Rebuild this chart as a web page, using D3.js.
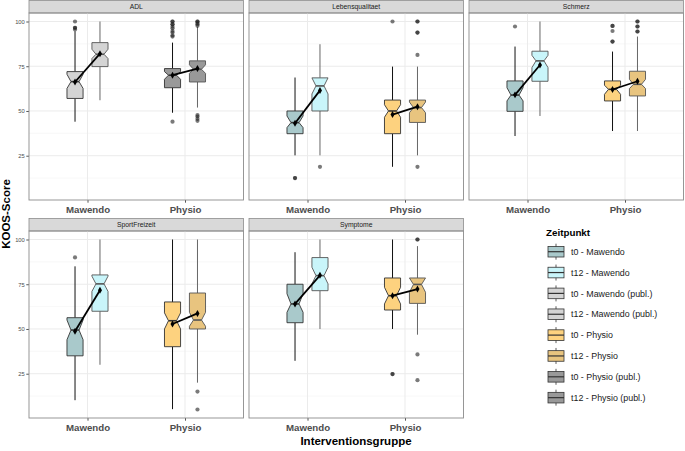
<!DOCTYPE html>
<html>
<head>
<meta charset="utf-8">
<script src="https://cdn.jsdelivr.net/npm/d3@7"></script>
<style>
  body { margin: 0; background: #fff; }
  svg { font-family: "Liberation Sans", Arial, sans-serif; display: block; }
</style>
</head>
<body>
<div id="chart"></div>
<script>
"use strict";

// Facets, groups and timepoints
var panels = ["ADL", "Lebensqualitaet", "Schmerz", "SportFreizeit", "Symptome"];
var groups = ["Mawendo", "Physio"];
var times = ["t0", "t12"];

// Legend levels and their fills
var levels = ["t0 - Mawendo", "t12 - Mawendo", "t0 - Mawendo (publ.)", "t12 - Mawendo (publ.)",
              "t0 - Physio", "t12 - Physio", "t0 - Physio (publ.)", "t12 - Physio (publ.)"];
var levelColors = ["#a9c9cb", "#c9f5fa", "#d4d4d4", "#d4d4d4",
                   "#fdd27f", "#e8c47f", "#999999", "#999999"];

// Which level each box uses, per panel (order: Mawendo t0, Mawendo t12, Physio t0, Physio t12)
var boxLevels = [
  ["t0 - Mawendo (publ.)", "t12 - Mawendo (publ.)", "t0 - Physio (publ.)", "t12 - Physio (publ.)"],
  ["t0 - Mawendo", "t12 - Mawendo", "t0 - Physio", "t12 - Physio"],
  ["t0 - Mawendo", "t12 - Mawendo", "t0 - Physio", "t12 - Physio"],
  ["t0 - Mawendo", "t12 - Mawendo", "t0 - Physio", "t12 - Physio"],
  ["t0 - Mawendo", "t12 - Mawendo", "t0 - Physio", "t12 - Physio"]
];

// Box statistics per panel, same box order
var whiskerLow = [[44, 56, 49, 51.9], [25.2, 25.2, 18.8, 25.2], [36, 47.2, 38.8, 38.8], [10.2, 30, 5.2, 20], [32.2, 50, 50, 46.8]];
var q1 =         [[57, 74.8, 63, 66.2], [37.3, 50, 37.3, 43.6], [49.8, 66.6, 55.6, 58.4], [35, 59.9, 40.1, 50], [53.5, 71.4, 60.6, 64.3]];
var median =     [[66.4, 81.7, 70, 73.3], [43.5, 64, 50, 51.9], [58.9, 78, 62.1, 64.9], [49.4, 75.2, 54.6, 55], [64, 79.8, 68.6, 74.9]];
var q3 =         [[72, 88.2, 73.7, 78], [50, 68.5, 56.1, 56.1], [66.8, 83.4, 66.8, 72.2], [56.3, 80.2, 65.1, 70.1], [75, 89.9, 78.5, 78.5]];
var whiskerHigh =[[94.5, 100, 88.2, 97], [68.7, 87.3, 74.8, 74.8], [86, 100, 83.2, 91.6], [85, 100, 100, 100], [92.9, 100, 100, 96.3]];
var notchLow =   [[62.6, 79.3, 67.7, 71], [40.7, 59.5, 46.5, 49], [55.6, 74.2, 59.3, 62.5], [44, 71, 50, 51.5], [59.3, 75.2, 64, 70.5]];
var notchHigh =  [[70.5, 84.5, 72, 75.8], [47.2, 68.5, 53.5, 55], [63, 81.1, 64.4, 67.7], [55, 79.5, 59, 59.3], [69.7, 84.5, 73.3, 78.5]];
var means =      [[66.2, 82, 70, 73.7], [43.1, 61.5, 48, 52.4], [59, 75.7, 62, 66.6], [48.7, 71.6, 52.8, 58.7], [64, 80, 68.6, 72.3]];

// Outliers (repeated values overlap and look darker)
var outliers = [
  [[100, 96.5, 96.5, 95.5], [], [100, 100, 98.4, 98.4, 97.1, 96.2, 94.7, 93.8, 92.3, 91.6, 44], [100, 100, 99.2, 98.4, 97.6, 47.7, 46.9, 45.6, 44.5]],
  [[12.5, 12.5], [18.8], [100], [100, 100, 93.8, 93.8, 81.3, 18.8]],
  [[97.2], [], [97.5, 97.5, 94.7, 88.8, 88.8], [100, 100, 97.2, 97.2, 94.4, 94.4]],
  [[90], [], [], [15, 5]],
  [[], [], [24.8, 24.8], [100, 100, 35.8, 21.4]]
];

var yTicks = [25, 50, 75, 100];
var yMinor = [12.5, 37.5, 62.5, 87.5];

// Layout
var W = 685, H = 451;
var colX = [29, 249, 469], pw = 214.5;
var rowY = [13, 231], ph = 187, stripH = 12.5;

var svg = d3.select("#chart").append("svg")
  .attr("width", W).attr("height", H);

var color = d3.scaleOrdinal().domain(levels).range(levelColors);

// shared y domain from data, expanded 5%
var allVals = [];
panels.forEach(function (p, i) {
  allVals = allVals.concat(whiskerLow[i], whiskerHigh[i]);
  outliers[i].forEach(function (o) { allVals = allVals.concat(o); });
});
var ext = d3.extent(allVals);
var pad = (ext[1] - ext[0]) * 0.05;
var y = d3.scaleLinear().domain([ext[0] - pad, ext[1] + pad]).range([ph, 0]);

var x = d3.scalePoint().domain(groups).range([0, pw]).padding(0.6);
var step = x.step();
var dodge = step * 0.128, boxW = step * 0.165;

panels.forEach(function (name, i) {
  var col = i % 3, row = Math.floor(i / 3);
  var g = svg.append("g").attr("transform", "translate(" + colX[col] + "," + rowY[row] + ")");

  // strip
  g.append("rect").attr("x", 0).attr("y", -stripH).attr("width", pw).attr("height", stripH)
    .attr("fill", "#d9d9d9").attr("stroke", "#8c8c8c").attr("stroke-width", 0.8);
  g.append("text").attr("x", pw / 2).attr("y", -stripH / 2 + 2.4)
    .attr("text-anchor", "middle").attr("font-size", 6.8).attr("fill", "#1a1a1a").text(name);

  // grid
  g.selectAll(".minor").data(yMinor).enter().append("line")
    .attr("x1", 0).attr("x2", pw).attr("y1", function (d) { return y(d); }).attr("y2", function (d) { return y(d); })
    .attr("stroke", "#f4f4f4").attr("stroke-width", 0.6);
  g.selectAll(".major").data(yTicks).enter().append("line")
    .attr("x1", 0).attr("x2", pw).attr("y1", function (d) { return y(d); }).attr("y2", function (d) { return y(d); })
    .attr("stroke", "#ebebeb").attr("stroke-width", 1);
  g.selectAll(".vgrid").data(groups).enter().append("line")
    .attr("x1", function (d) { return x(d); }).attr("x2", function (d) { return x(d); })
    .attr("y1", 0).attr("y2", ph).attr("stroke", "#ebebeb").attr("stroke-width", 1);

  // x axis
  var xAxis = g.append("g").attr("transform", "translate(0," + ph + ")")
    .call(d3.axisBottom(x).tickSize(2.7).tickPadding(3));
  xAxis.select(".domain").remove();
  xAxis.selectAll("line").attr("stroke", "#555");
  xAxis.selectAll("text").attr("font-size", 9.7).attr("font-weight", "bold").attr("fill", "#4d4d4d")
    .attr("font-family", "Liberation Sans, Arial, sans-serif");

  // y axis on left column
  if (col === 0) {
    var yAxis = g.append("g").call(d3.axisLeft(y).tickValues(yTicks).tickSize(2.7).tickPadding(1.5));
    yAxis.select(".domain").remove();
    yAxis.selectAll("line").attr("stroke", "#555");
    yAxis.selectAll("text").attr("font-size", 5.8).attr("fill", "#4d4d4d")
      .attr("font-family", "Liberation Sans, Arial, sans-serif");
  }

  // boxes
  var boxes = [];
  groups.forEach(function (grp, gi) {
    times.forEach(function (t, ti) {
      var b = gi * 2 + ti;
      boxes.push({
        cx: x(grp) + (ti === 0 ? -dodge : dodge), t: ti,
        lo: whiskerLow[i][b], q1: q1[i][b], med: median[i][b], q3: q3[i][b], hi: whiskerHigh[i][b],
        nlo: notchLow[i][b], nhi: notchHigh[i][b], mean: means[i][b],
        out: outliers[i][b], fill: color(boxLevels[i][b])
      });
    });
  });

  boxes.forEach(function (d) {
    var wc = d.t === 0 ? "#111" : "#666";
    var oc = d.t === 0 ? "#333" : "#555";
    g.append("line").attr("x1", d.cx).attr("x2", d.cx).attr("y1", y(d.q3)).attr("y2", y(d.hi))
      .attr("stroke", wc).attr("stroke-width", 1);
    g.append("line").attr("x1", d.cx).attr("x2", d.cx).attr("y1", y(d.q1)).attr("y2", y(d.lo))
      .attr("stroke", wc).attr("stroke-width", 1);
    var hw = boxW / 2;
    var pts = [
      [d.cx - hw, y(d.q3)], [d.cx - hw, y(d.nhi)], [d.cx - hw / 2, y(d.med)], [d.cx - hw, y(d.nlo)],
      [d.cx - hw, y(d.q1)], [d.cx + hw, y(d.q1)], [d.cx + hw, y(d.nlo)], [d.cx + hw / 2, y(d.med)],
      [d.cx + hw, y(d.nhi)], [d.cx + hw, y(d.q3)]
    ];
    g.append("polygon").attr("points", pts.map(function (p) { return p.join(","); }).join(" "))
      .attr("fill", d.fill).attr("stroke", oc).attr("stroke-width", 0.9);
    g.append("line").attr("x1", d.cx - hw / 2).attr("x2", d.cx + hw / 2)
      .attr("y1", y(d.med)).attr("y2", y(d.med)).attr("stroke", oc).attr("stroke-width", 1.6);
    g.selectAll(null).data(d.out).enter().append("circle")
      .attr("cx", d.cx).attr("cy", function (v) { return y(v); }).attr("r", 2.1)
      .attr("fill", "#222").attr("fill-opacity", 0.6);
  });

  // means connected per group
  groups.forEach(function (grp, gi) {
    var pair = [boxes[gi * 2], boxes[gi * 2 + 1]];
    g.append("path")
      .attr("d", d3.line().x(function (d) { return d.cx; }).y(function (d) { return y(d.mean); })(pair))
      .attr("stroke", "#000").attr("stroke-width", 1.8).attr("fill", "none");
    g.selectAll(null).data(pair).enter().append("path")
      .attr("transform", function (d) { return "translate(" + d.cx + "," + y(d.mean) + ")"; })
      .attr("d", d3.symbol().type(d3.symbolDiamond).size(14))
      .attr("fill", "#000");
  });

  // panel border
  g.append("rect").attr("width", pw).attr("height", ph)
    .attr("fill", "none").attr("stroke", "#8c8c8c").attr("stroke-width", 0.9);
});

// axis titles
svg.append("text").attr("x", 356).attr("y", 445).attr("text-anchor", "middle")
  .attr("font-size", 11.5).attr("font-weight", "bold").attr("fill", "#000").text("Interventionsgruppe");
svg.append("text").attr("transform", "translate(10,214) rotate(-90)").attr("text-anchor", "middle")
  .attr("font-size", 11.5).attr("font-weight", "bold").attr("fill", "#000").text("KOOS-Score");

// legend
var legend = svg.append("g").attr("transform", "translate(546,0)");
legend.append("text").attr("x", 0).attr("y", 236).attr("font-size", 9.8).attr("font-weight", "bold")
  .attr("fill", "#000").text("Zeitpunkt");
var rowStep = 20.85, row0 = 251.7;
levels.forEach(function (lv, k) {
  var cy = row0 + k * rowStep;
  var kg = legend.append("g").attr("transform", "translate(10," + cy + ")");
  kg.append("line").attr("x1", 0).attr("x2", 0).attr("y1", -8).attr("y2", 8)
    .attr("stroke", "#333").attr("stroke-width", 0.8);
  kg.append("rect").attr("x", -8).attr("y", -5.3).attr("width", 16).attr("height", 10.6)
    .attr("fill", color(lv)).attr("stroke", "#333").attr("stroke-width", 0.8);
  kg.append("line").attr("x1", -8).attr("x2", 8).attr("y1", 0).attr("y2", 0)
    .attr("stroke", "#333").attr("stroke-width", 1.2);
  legend.append("text").attr("x", 25).attr("y", cy + 3.2).attr("font-size", 8.9)
    .attr("fill", "#1a1a1a").text(lv);
});
</script>
</body>
</html>
